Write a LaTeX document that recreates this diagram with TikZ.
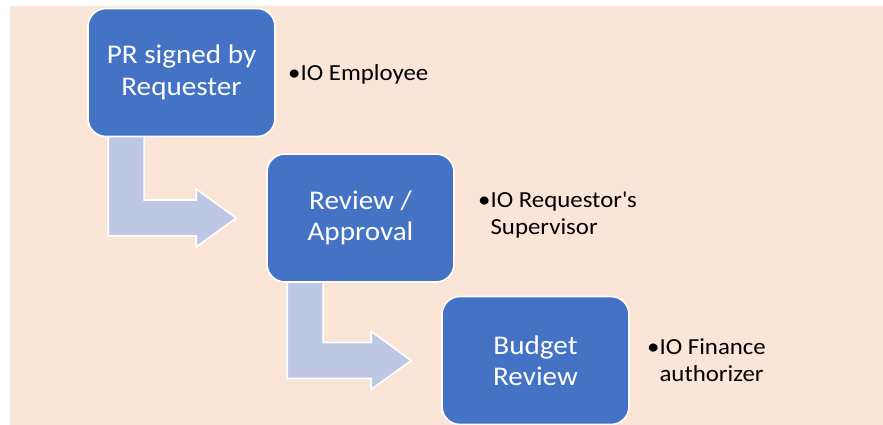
\documentclass[tikz,border=0pt]{standalone}
\usepackage{fontspec}
\setmainfont{Carlito}[FakeStretch=1.08]
\usetikzlibrary{calc,backgrounds}
\definecolor{bgpeach}{HTML}{FBE5D7}
\definecolor{boxblue}{HTML}{4472C4}
\definecolor{arrowblue}{HTML}{BEC8E4}
\tikzset{
  stepbox/.style={draw=white, line width=1.6pt, fill=boxblue, rounded corners=18pt,
    minimum width=187pt, minimum height=128pt, inner sep=0pt, align=center,
    text=white, font=\fontsize{27}{31.5}\selectfont},
  sidetext/.style={anchor=base west, inner sep=0pt, text=black,
    font=\fontsize{23}{27}\selectfont},
  barrow/.style={draw=white, line width=1.6pt, fill=arrowblue, line join=miter}
}
\newcommand\bentarrow[2]{%
  \path let \p1=(#1.south west), \p2=(#2.west) in
    [barrow] (\x1+21pt,\y1+6pt) -- (\x1+57pt,\y1+6pt) -- (\x1+57pt,\y2+18pt)
    -- (\x2-70pt,\y2+18pt) -- (\x2-70pt,\y2+29pt) -- (\x2-30pt,\y2)
    -- (\x2-70pt,\y2-29pt) -- (\x2-70pt,\y2-18pt) -- (\x1+21pt,\y2-18pt) -- cycle;}
\begin{document}
\begin{tikzpicture}[x=1pt,y=-1pt]
\useasboundingbox (0,0) rectangle (883,425);
\node[stepbox] (b1) at (181.5,72.5) {PR signed by\\Requester};
\node[stepbox] (b2) at (360.5,218) {Review /\\Approval};
\node[stepbox] (b3) at (535.5,360.5) {Budget\\Review};
\node[sidetext] (t1) at (288,81) {\begin{tabular}[t]{@{}l@{}l@{}}•&IO Employee\end{tabular}};
\node[sidetext] (t2) at (478,207) {\begin{tabular}[t]{@{}l@{}l@{}}•&IO Requestor\textquotesingle s\\&Supervisor\end{tabular}};
\node[sidetext] (t3) at (647,354) {\begin{tabular}[t]{@{}l@{}l@{}}•&IO Finance\\&authorizer\end{tabular}};
\begin{scope}[on background layer]
  \fill[bgpeach] (10,6) rectangle (883,425);
  \bentarrow{b1}{b2}
  \bentarrow{b2}{b3}
\end{scope}
\end{tikzpicture}
\end{document}
